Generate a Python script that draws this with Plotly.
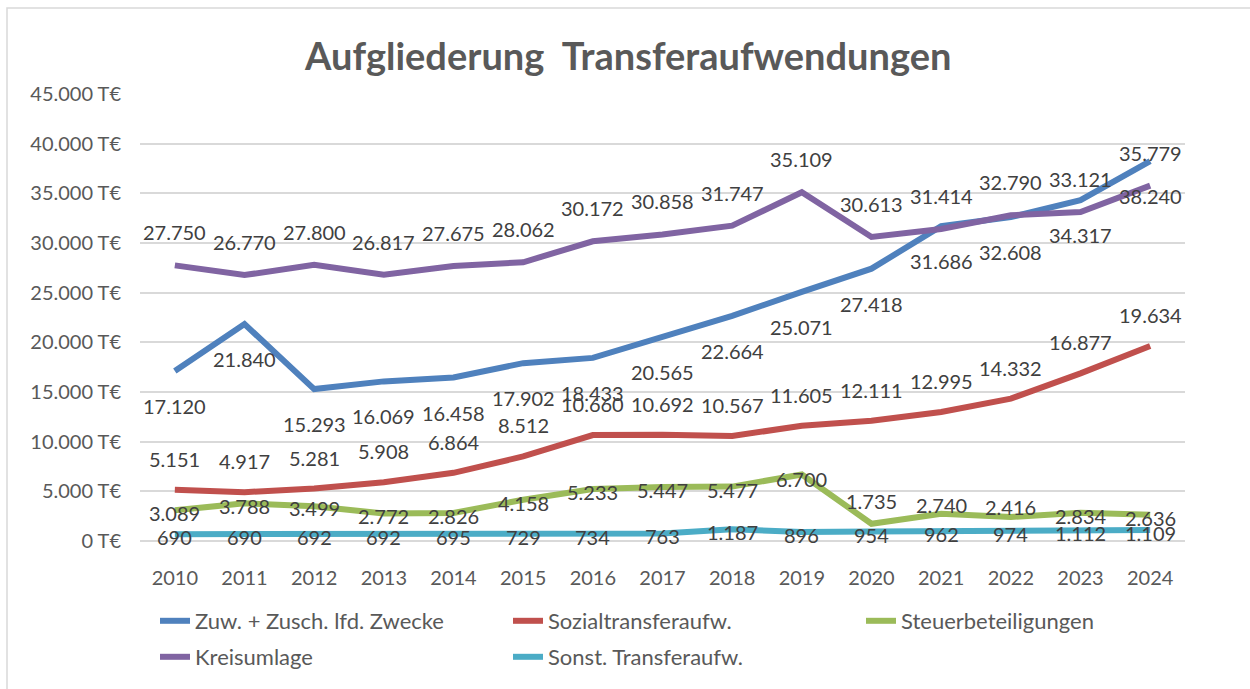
import plotly.graph_objects as go

years = [str(y) for y in range(2010, 2025)]

zuwendungen = [17120, 21840, 15293, 16069, 16458, 17902, 18433, 20565, 22664, 25071, 27418, 31686, 32608, 34317, 38240]
sozialtransfer = [5151, 4917, 5281, 5908, 6864, 8512, 10660, 10692, 10567, 11605, 12111, 12995, 14332, 16877, 19634]
steuerbeteiligungen = [3089, 3788, 3499, 2772, 2826, 4158, 5233, 5447, 5477, 6700, 1735, 2740, 2416, 2834, 2636]
kreisumlage = [27750, 26770, 27800, 26817, 27675, 28062, 30172, 30858, 31747, 35109, 30613, 31414, 32790, 33121, 35779]
sonstige = [690, 690, 692, 692, 695, 729, 734, 763, 1187, 896, 954, 962, 974, 1112, 1109]

# label offsets in pixels (style, not data): positive = above the point
steuer_label_shift = [-3, -3, -2, -3, -3, -3, -3, -3, -3, -5, 23, 9, 10, -3, -3]

series = [
    ("Zuw. + Zusch. lfd. Zwecke", zuwendungen, "#4F81BD", [-35] * 15, "legend"),
    ("Sozialtransferaufw.", sozialtransfer, "#C0504D", [31] * 15, "legend"),
    ("Steuerbeteiligungen", steuerbeteiligungen, "#9BBB59", steuer_label_shift, "legend"),
    ("Kreisumlage", kreisumlage, "#8064A2", [33] * 15, "legend2"),
    ("Sonst. Transferaufw.", sonstige, "#4BACC6", [-3] * 15, "legend2"),
]

FONT = "Lato"
TXT = "#595959"
LBL = "#404040"

W, H = 1250, 689
ML, MR, MT, MB = 100, 25, 94, 148
GW = W - ML - MR
GH = H - MT - MB


def px(x):
    return (x - ML) / GW


def py(y):
    return (H - MB - y) / GH


def de(v):
    return f"{v:,}".replace(",", ".")


fig = go.Figure()
for name, vals, color, shifts, lg in series:
    fig.add_trace(go.Scatter(
        x=years, y=vals, name=name, mode="lines",
        line=dict(color=color, width=6),
        hoverinfo="skip", legend=lg,
    ))

annotations = []
for name, vals, color, shifts, lg in series:
    for i, (v, s) in enumerate(zip(vals, shifts)):
        annotations.append(dict(
            x=i, y=v, xref="x", yref="y", text=de(v), showarrow=False,
            yshift=s, font=dict(family=FONT, size=20, color=LBL),
        ))

annotations.append(dict(
    text="<b>Aufgliederung  Transferaufwendungen</b>", x=px(627), y=py(55),
    xref="paper", yref="paper", showarrow=False, xanchor="center", yanchor="middle",
    font=dict(family=FONT, size=38, color=TXT),
))

legend_common = dict(
    orientation="h", xanchor="left", yanchor="top",
    entrywidth=308, entrywidthmode="pixels",
    font=dict(family=FONT, size=22, color=TXT),
    traceorder="normal", itemwidth=30, bgcolor="rgba(0,0,0,0)",
)

fig.update_layout(
    width=W, height=H,
    margin=dict(l=ML, r=MR, t=MT, b=MB, autoexpand=False),
    paper_bgcolor="white", plot_bgcolor="white",
    separators=",.",
    showlegend=True,
    legend=dict(x=px(155), y=py(600), **legend_common),
    legend2=dict(x=px(155), y=py(636), **legend_common),
    annotations=annotations,
    shapes=[dict(
        type="rect", xref="paper", yref="paper",
        x0=px(7), x1=px(1262), y0=py(702), y1=py(8),
        line=dict(color="#D9D9D9", width=1.5), layer="below",
    )],
    xaxis=dict(
        type="category", range=[-0.5, 14.5], domain=[px(140), px(1185)],
        showgrid=False, zeroline=False,
        showline=False, ticks="", tickfont=dict(family=FONT, size=20, color=TXT),
        ticklabelstandoff=23, fixedrange=True,
    ),
    yaxis=dict(
        range=[0, 45000], dtick=5000, tickformat=",d", ticksuffix=" T€",
        showgrid=True, gridcolor="#D9D9D9", gridwidth=1.5,
        zeroline=True, zerolinecolor="#D9D9D9", zerolinewidth=1.5,
        showline=False, ticks="", tickfont=dict(family=FONT, size=20, color=TXT),
        ticklabelstandoff=18, fixedrange=True,
    ),
)

fig.write_html("out.html", config={"displayModeBar": False},
               post_script="document.body.style.margin='0';")
